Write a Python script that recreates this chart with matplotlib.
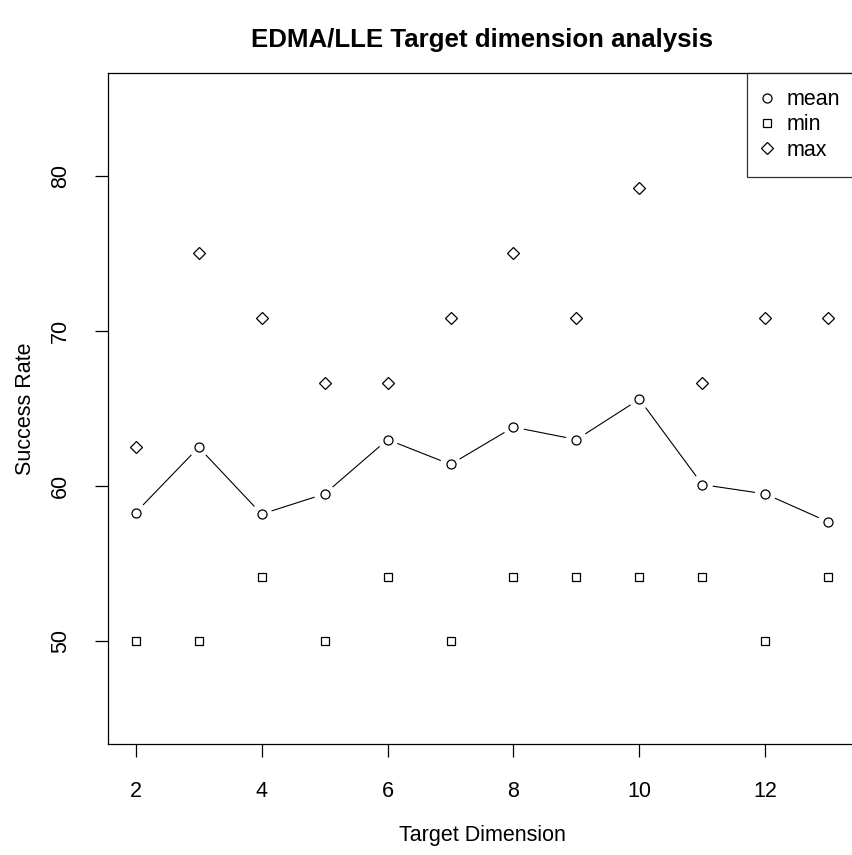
import numpy as np
import matplotlib
matplotlib.use("Agg")
import matplotlib.pyplot as plt

plt.rcParams['font.family'] = ['Liberation Sans', 'DejaVu Sans']

dims = [2, 3, 4, 5, 6, 7, 8, 9, 10, 11, 12, 13]
mean_rate = [58.3, 62.5, 58.2, 59.5, 63.0, 61.4, 63.8, 63.0, 65.6, 60.1, 59.5, 57.7]
min_rate = [50.0, 50.0, 54.17, 50.0, 54.17, 50.0, 54.17, 54.17, 54.17, 54.17, 50.0, 54.17]
max_rate = [62.5, 75.0, 70.83, 66.67, 66.67, 70.83, 75.0, 70.83, 79.17, 66.67, 70.83, 70.83]

fig = plt.figure(figsize=(8.53, 8.55), dpi=100)
ax = fig.add_axes([108 / 853, 111 / 855, 748 / 853, 671 / 855])

ax.set_xlim(1.56, 13.44)
ax.set_ylim(43.4, 86.6)

mk = dict(linestyle='none', markerfacecolor='none', markeredgecolor='black',
          markeredgewidth=0.9)
ax.plot(dims, mean_rate, marker='o', markersize=6.5, label='mean', **mk)
ax.plot(dims, min_rate, marker='s', markersize=6, label='min', **mk)
ax.plot(dims, max_rate, marker='D', markersize=6, label='max', **mk)

# R type="b": line segments with gaps around points
fig.canvas.draw()
pts = ax.transData.transform(np.column_stack([dims, mean_rate]))
inv = ax.transData.inverted()
gap = 11
for p0, p1 in zip(pts[:-1], pts[1:]):
    d = p1 - p0
    L = np.hypot(*d)
    if L <= 2 * gap:
        continue
    u = d / L
    a = inv.transform(p0 + u * gap)
    b = inv.transform(p1 - u * gap)
    ax.plot([a[0], b[0]], [a[1], b[1]], color='black', linewidth=0.8)

fs = 15.5
ax.set_xticks([2, 4, 6, 8, 10, 12])
ax.set_yticks([50, 60, 70, 80])
ax.tick_params(direction='out', length=9.5, width=0.9, labelsize=fs, pad=17)
for lab in ax.get_yticklabels():
    lab.set_rotation(90)
    lab.set_va('center')
for s in ax.spines.values():
    s.set_linewidth(0.9)

ax.set_xlabel('Target Dimension', fontsize=fs, labelpad=17)
ax.set_ylabel('Success Rate', fontsize=fs, labelpad=10)
ax.set_title('EDMA/LLE Target dimension analysis', fontsize=18.6,
             fontweight='bold', pad=19)

leg = ax.legend(loc='upper right', fontsize=fs, frameon=True, fancybox=False,
                borderaxespad=0, handletextpad=0.7, handlelength=0.37,
                labelspacing=0.2, borderpad=0.75)
leg.get_frame().set_edgecolor('black')
leg.get_frame().set_linewidth(0.9)

fig.savefig('out.png', dpi=100)
